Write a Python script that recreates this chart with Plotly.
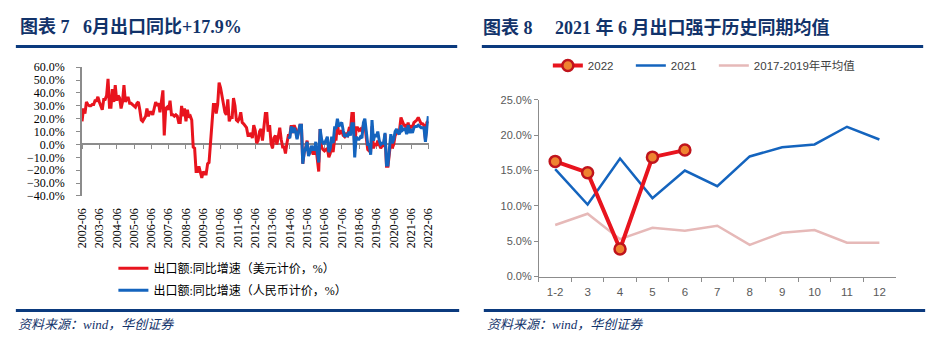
import plotly.graph_objects as go
import pandas as pd

# ---------------- data ----------------
start_month = "2002-06"
# 出口额 同比增速（美元计价，%），2002-06 ~ 2022-06
usd_yoy = [
    18, 28, 24, 33, 31, 30, 30,                              # 2002 Jun-Dec
    31, 31, 34, 34, 37, 33, 30, 27, 35, 35, 38, 51,          # 2003
    29, 29, 43, 33, 46, 34, 38, 36, 28, 33, 46, 33,          # 2004
    36, 36, 32, 32, 31, 30, 29, 32, 33, 27, 19, 18,          # 2005
    20, 22, 28, 22, 25, 25, 23, 28, 33, 30, 32, 25,          # 2006
    33, 42, 7, 28, 29, 27, 34, 23, 23, 22, 23, 22,           # 2007
    17, 17, 30, 22, 28, 18, 27, 21, 22, 19, -2, -3,          # 2008
    -21, -21, -17, -23, -26, -21, -23, -23, -15, -14, -1, 18,  # 2009
    31, 31, 24, 31, 48, 44, 38, 34, 25, 23, 35, 18,          # 2010
    21, 21, 36, 30, 19, 18, 20, 25, 17, 16, 14, 13,          # 2011
    7, 7, 9, 5, 15, 11, 1, 3, 10, 12, 3, 14,                 # 2012
    24, 24, 10, 15, 1, -3, 5, 7, 0, 6, 13, 4,                # 2013
    -2, -2, -7, 1, 7, 7, 15, 9, 15, 12, 5, 10,               # 2014
    15, 15, -15, -6, -3, 3, -8, -6, -4, -7, -7, -1,          # 2015
    -11, -21, 12, -2, -4, -5, -4, -3, -10, -7, 0, -6,        # 2016
    4, 4, 16, 8, 9, 11, 7, 6, 8, 7, 12, 11,                  # 2017
    24, 24, -3, 13, 13, 11, 12, 10, 15, 16, 5, -4,           # 2018
    -5, -5, 14, -3, 1, -1, 3, -1, -3, -1, -1, 8,             # 2019
    -17, -17, -7, 3, -3, 0, 7, 9, 10, 11, 21, 18,            # 2020
    15, 15, 10, 17, 11, 15, 13, 17, 18, 19, 21, 19,          # 2021
    16, 16, 15, 4, 17, 18,                                   # 2022 Jan-Jun
]
rmb_start = "2014-05"
# 出口额 同比增速（人民币计价，%），2014-05 ~ 2022-06
rmb_yoy = [
    6, 5, 14, 9, 13, 10, 4, 9,                               # 2014 May-Dec
    15, 15, -15, -6, -3, 2, -9, -6, -1, -4, -4, 2,           # 2015
    -7, -14, 12, 4, 1, 1, 3, 6, -6, -3, 6, 1,                # 2016
    13, 13, 20, 14, 16, 17, 11, 6, 8, 6, 10, 7,              # 2017
    16, 16, -10, 6, 4, 4, 6, 5, 17, 20, 10, 0,               # 2018
    0, -8, 19, 3, 8, 6, 10, 3, 0, 1, 1, 9,                   # 2019
    -16, -16, -4, 8, 1, 4, 10, 12, 9, 8, 15, 11,             # 2020
    12, 12, 8, 15, 9, 12, 9, 13, 14, 14, 15, 14,             # 2021
    13, 13, 13, 2, 15, 22,                                   # 2022 Jan-Jun
]
tick_labels = [f"{y}-06" for y in range(2002, 2023)]

months = ["1-2", "3", "4", "5", "6", "7", "8", "9", "10", "11", "12"]
exp_2022 = [16.3, 14.7, 3.9, 16.9, 17.9]
exp_2021 = [15.2, 10.2, 16.7, 11.1, 15.0, 12.8, 17.0, 18.3, 18.7, 21.2, 19.4]
avg_2017_2019 = [7.3, 8.9, 5.3, 6.9, 6.5, 7.2, 4.5, 6.2, 6.6, 4.8, 4.8]

usd_dates = pd.date_range(start_month, periods=len(usd_yoy), freq="MS")
rmb_dates = pd.date_range(rmb_start, periods=len(rmb_yoy), freq="MS")
tick_dates = [pd.Timestamp(t + "-01") for t in tick_labels]

# ---------------- layout helpers ----------------
W, H = 942, 355
def px(x):
    return x / W
def py(y):
    return 1 - y / H

NAVY = "#0b3a7e"
TITLE = "#12336a"
RED = "#e8141e"
BLUE = "#1464be"
PINK = "#e6b9b8"
AXIS = "#8c8c8c"
SERIF = "Liberation Serif, Noto Sans CJK SC"
NARROW = "Liberation Sans Narrow, Liberation Sans, Noto Sans CJK SC"

L_dom_y = [py(196.7), py(62.7)]
zero_pos = L_dom_y[0] + 0.4 * (L_dom_y[1] - L_dom_y[0])
x_range = ["2002-05-28", "2022-06-08"]

fig = go.Figure()

# left chart
fig.add_trace(go.Scatter(
    x=usd_dates, y=usd_yoy, mode="lines", name="出口额:同比增速（美元计价，%）",
    line=dict(color=RED, width=3), xaxis="x", yaxis="y",
    legend="legend", legendgroup="a"))
fig.add_trace(go.Scatter(
    x=rmb_dates, y=rmb_yoy, mode="lines", name="出口额:同比增速（人民币计价，%）",
    line=dict(color=BLUE, width=3), xaxis="x", yaxis="y",
    legend="legend", legendgroup="b"))
# helper (invisible) trace so the zero-crossing axis is drawn
fig.add_trace(go.Scatter(
    x=[usd_dates[0]], y=[0], mode="markers", marker=dict(opacity=0),
    xaxis="x3", yaxis="y", showlegend=False, hoverinfo="skip"))

# right chart
fig.add_trace(go.Scatter(
    x=months, y=avg_2017_2019, mode="lines", name="2017-2019年平均值",
    line=dict(color=PINK, width=2.5), xaxis="x2", yaxis="y2", legend="legend2",
    legendwidth=120))
fig.add_trace(go.Scatter(
    x=months, y=exp_2021, mode="lines", name="2021",
    line=dict(color=BLUE, width=2.5), xaxis="x2", yaxis="y2", legend="legend2"))
fig.add_trace(go.Scatter(
    x=months[:len(exp_2022)], y=exp_2022, mode="lines+markers", name="2022",
    line=dict(color=RED, width=4),
    marker=dict(size=11, color="#ef8330", line=dict(color="#c0141c", width=2.5)),
    xaxis="x2", yaxis="y2", legend="legend2"))

fig.update_layout(
    width=W, height=H,
    margin=dict(l=0, r=0, t=0, b=0),
    paper_bgcolor="white", plot_bgcolor="rgba(0,0,0,0)",
    showlegend=True,
    xaxis=dict(
        domain=[px(76), px(428)], anchor="y", type="date", range=x_range,
        tickmode="array", tickvals=tick_dates, ticktext=tick_labels,
        tickangle=-90, ticks="", showline=False, showgrid=False, zeroline=False,
        tickfont=dict(family=SERIF, size=12, color="#000"),
        ticklabelstandoff=9,
    ),
    xaxis3=dict(
        overlaying="x", anchor="free", position=zero_pos, type="date",
        range=x_range, matches="x",
        tickmode="array", tickvals=tick_dates, showticklabels=False,
        ticks="outside", ticklen=4, tickcolor=AXIS, tickwidth=1,
        showline=True, linecolor=AXIS, linewidth=1.5, showgrid=False,
        zeroline=False, layer="below traces",
    ),
    yaxis=dict(
        domain=L_dom_y, anchor="x", range=[-40, 60], dtick=10, tick0=0,
        tickformat=".1f", ticksuffix="%", ticks="outside", ticklen=4,
        tickcolor=AXIS, showline=True, linecolor=AXIS, linewidth=1.5,
        showgrid=False, zeroline=False,
        tickfont=dict(family=SERIF, size=12, color="#000"),
        ticklabelstandoff=9,
    ),
    xaxis2=dict(
        domain=[px(540), px(902)], anchor="y2", type="category",
        range=[-0.5, 10.5], ticks="outside", tickson="boundaries", ticklen=4,
        tickcolor=AXIS, showline=True, linecolor=AXIS, linewidth=1,
        showgrid=False, zeroline=False,
        tickfont=dict(family=NARROW, size=11.5, color="#595959"),
        ticklabelstandoff=5,
    ),
    yaxis2=dict(
        domain=[py(280.7), py(96.7)], anchor="x2", range=[0, 25], dtick=5,
        tickformat=".1f", ticksuffix="%", ticks="outside", ticklen=4,
        tickcolor=AXIS, showline=True, linecolor=AXIS, linewidth=1,
        showgrid=False, zeroline=False,
        tickfont=dict(family=NARROW, size=11, color="#595959"),
    ),
    legend=dict(
        x=px(108), y=py(257), xanchor="left", yanchor="top",
        orientation="v", tracegroupgap=3, bgcolor="rgba(0,0,0,0)",
        font=dict(family=SERIF, size=12, color="#000"),
    ),
    legend2=dict(
        x=px(549), y=py(61), xanchor="left", yanchor="middle",
        orientation="h", traceorder="reversed", bgcolor="rgba(0,0,0,0)",
        entrywidth=38, entrywidthmode="pixels",
        font=dict(family=NARROW, size=11.5, color="#404040"),
    ),
)

# titles
fig.add_annotation(text="<b>图表 7\u2002 6月出口同比+17.9%</b>", x=px(11), y=py(21),
                   xref="paper", yref="paper", xanchor="left", yanchor="middle",
                   showarrow=False, font=dict(family=SERIF, size=18, color=TITLE))
fig.add_annotation(text="<b>图表 8\u3000 2021 年 6 月出口强于历史同期均值</b>", x=px(481), y=py(21),
                   xref="paper", yref="paper", xanchor="left", yanchor="middle",
                   showarrow=False, font=dict(family=SERIF, size=18, color=TITLE))
# sources
for x0 in (9, 485):
    fig.add_annotation(text="<i>资料来源：wind，华创证券</i>", x=px(x0), y=py(331),
                       xref="paper", yref="paper", xanchor="left", yanchor="middle",
                       showarrow=False, font=dict(family=SERIF, size=13, color=TITLE))

# decorative rules
for (x0, x1, y0) in [(9, 457, 41), (482, 930, 41), (9, 459, 316), (484, 932, 316)]:
    fig.add_shape(type="line", xref="paper", yref="paper",
                  x0=px(x0), x1=px(x1), y0=py(y0), y1=py(y0),
                  line=dict(color=NAVY, width=3))

fig.write_html("out.html", config={"displayModeBar": False},
               post_script="document.body.style.margin='0';document.body.style.overflow='hidden';")
